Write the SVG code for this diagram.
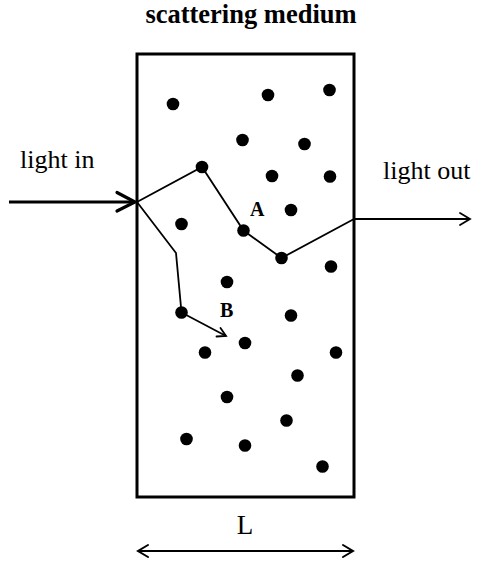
<svg xmlns="http://www.w3.org/2000/svg" width="478" height="562" viewBox="0 0 478 562">
<style>
.lbl{font-family:"Liberation Serif","Times New Roman",serif;fill:#000}
.b{font-weight:bold}
.dot{fill:#000}
.path{fill:none;stroke:#000;stroke-width:1.8;stroke-linejoin:miter}
.ah{fill:none;stroke:#000;stroke-linecap:round;stroke-linejoin:miter}
</style>
<rect width="478" height="562" fill="#fff"/>
<text class="lbl b" x="251" y="23" font-size="26.5" text-anchor="middle">scattering medium</text>
<g id="medium">
<rect x="137" y="54" width="217" height="443" fill="none" stroke="#000" stroke-width="3"/>
</g>
<g id="scatterers">
<circle class="dot" cx="173" cy="104" r="6.3"/>
<circle class="dot" cx="268" cy="95" r="6.3"/>
<circle class="dot" cx="329.5" cy="90" r="6.3"/>
<circle class="dot" cx="242.5" cy="140" r="6.3"/>
<circle class="dot" cx="304.5" cy="144" r="6.3"/>
<circle class="dot" cx="202" cy="167" r="6.3"/>
<circle class="dot" cx="272" cy="176" r="6.3"/>
<circle class="dot" cx="330" cy="176.5" r="6.3"/>
<circle class="dot" cx="291" cy="210" r="6.3"/>
<circle class="dot" cx="181.5" cy="224" r="6.3"/>
<circle class="dot" cx="243.5" cy="230.5" r="6.3"/>
<circle class="dot" cx="281.5" cy="258" r="6.3"/>
<circle class="dot" cx="331" cy="266.5" r="6.3"/>
<circle class="dot" cx="227" cy="282" r="6.3"/>
<circle class="dot" cx="291" cy="315.5" r="6.3"/>
<circle class="dot" cx="181.5" cy="312.5" r="6.3"/>
<circle class="dot" cx="245" cy="343" r="6.3"/>
<circle class="dot" cx="205" cy="352.5" r="6.3"/>
<circle class="dot" cx="336" cy="352.5" r="6.3"/>
<circle class="dot" cx="297.5" cy="375.5" r="6.3"/>
<circle class="dot" cx="227" cy="397" r="6.3"/>
<circle class="dot" cx="286.5" cy="420.5" r="6.3"/>
<circle class="dot" cx="186.5" cy="439" r="6.3"/>
<circle class="dot" cx="245" cy="445.5" r="6.3"/>
<circle class="dot" cx="322.5" cy="466.5" r="6.3"/>
</g>
<g id="connectors">
<line x1="9" y1="202" x2="135" y2="202" stroke="#000" stroke-width="3.2"/>
<polyline class="ah" points="117,192.5 135,202 117,211" stroke-width="3.2"/>
<polyline class="path" points="137,202 202,167 243.5,230.5 281.5,258 354,219"/>
<polyline class="path" points="137,202 176,253 181.5,312.5 226,336"/>
<polyline class="ah" points="216.5,336.5 226,336 220.5,328" stroke-width="1.8"/>
<line x1="354" y1="219" x2="469" y2="219" stroke="#000" stroke-width="1.8"/>
<polyline class="ah" points="460,213 470,219 460,225" stroke-width="1.8"/>
<line x1="139" y1="551" x2="352" y2="551" stroke="#000" stroke-width="2"/>
<polyline class="ah" points="148,545 138,551 148,557" stroke-width="2"/>
<polyline class="ah" points="343,545 353,551 343,557" stroke-width="2"/>
</g>
<text class="lbl" x="20" y="168" font-size="26">light in</text>
<text class="lbl" x="383" y="179" font-size="26">light out</text>
<text class="lbl b" x="250" y="216" font-size="20">A</text>
<text class="lbl b" x="220" y="317" font-size="20">B</text>
<text class="lbl" x="245" y="534" font-size="27" text-anchor="middle">L</text>
</svg>
